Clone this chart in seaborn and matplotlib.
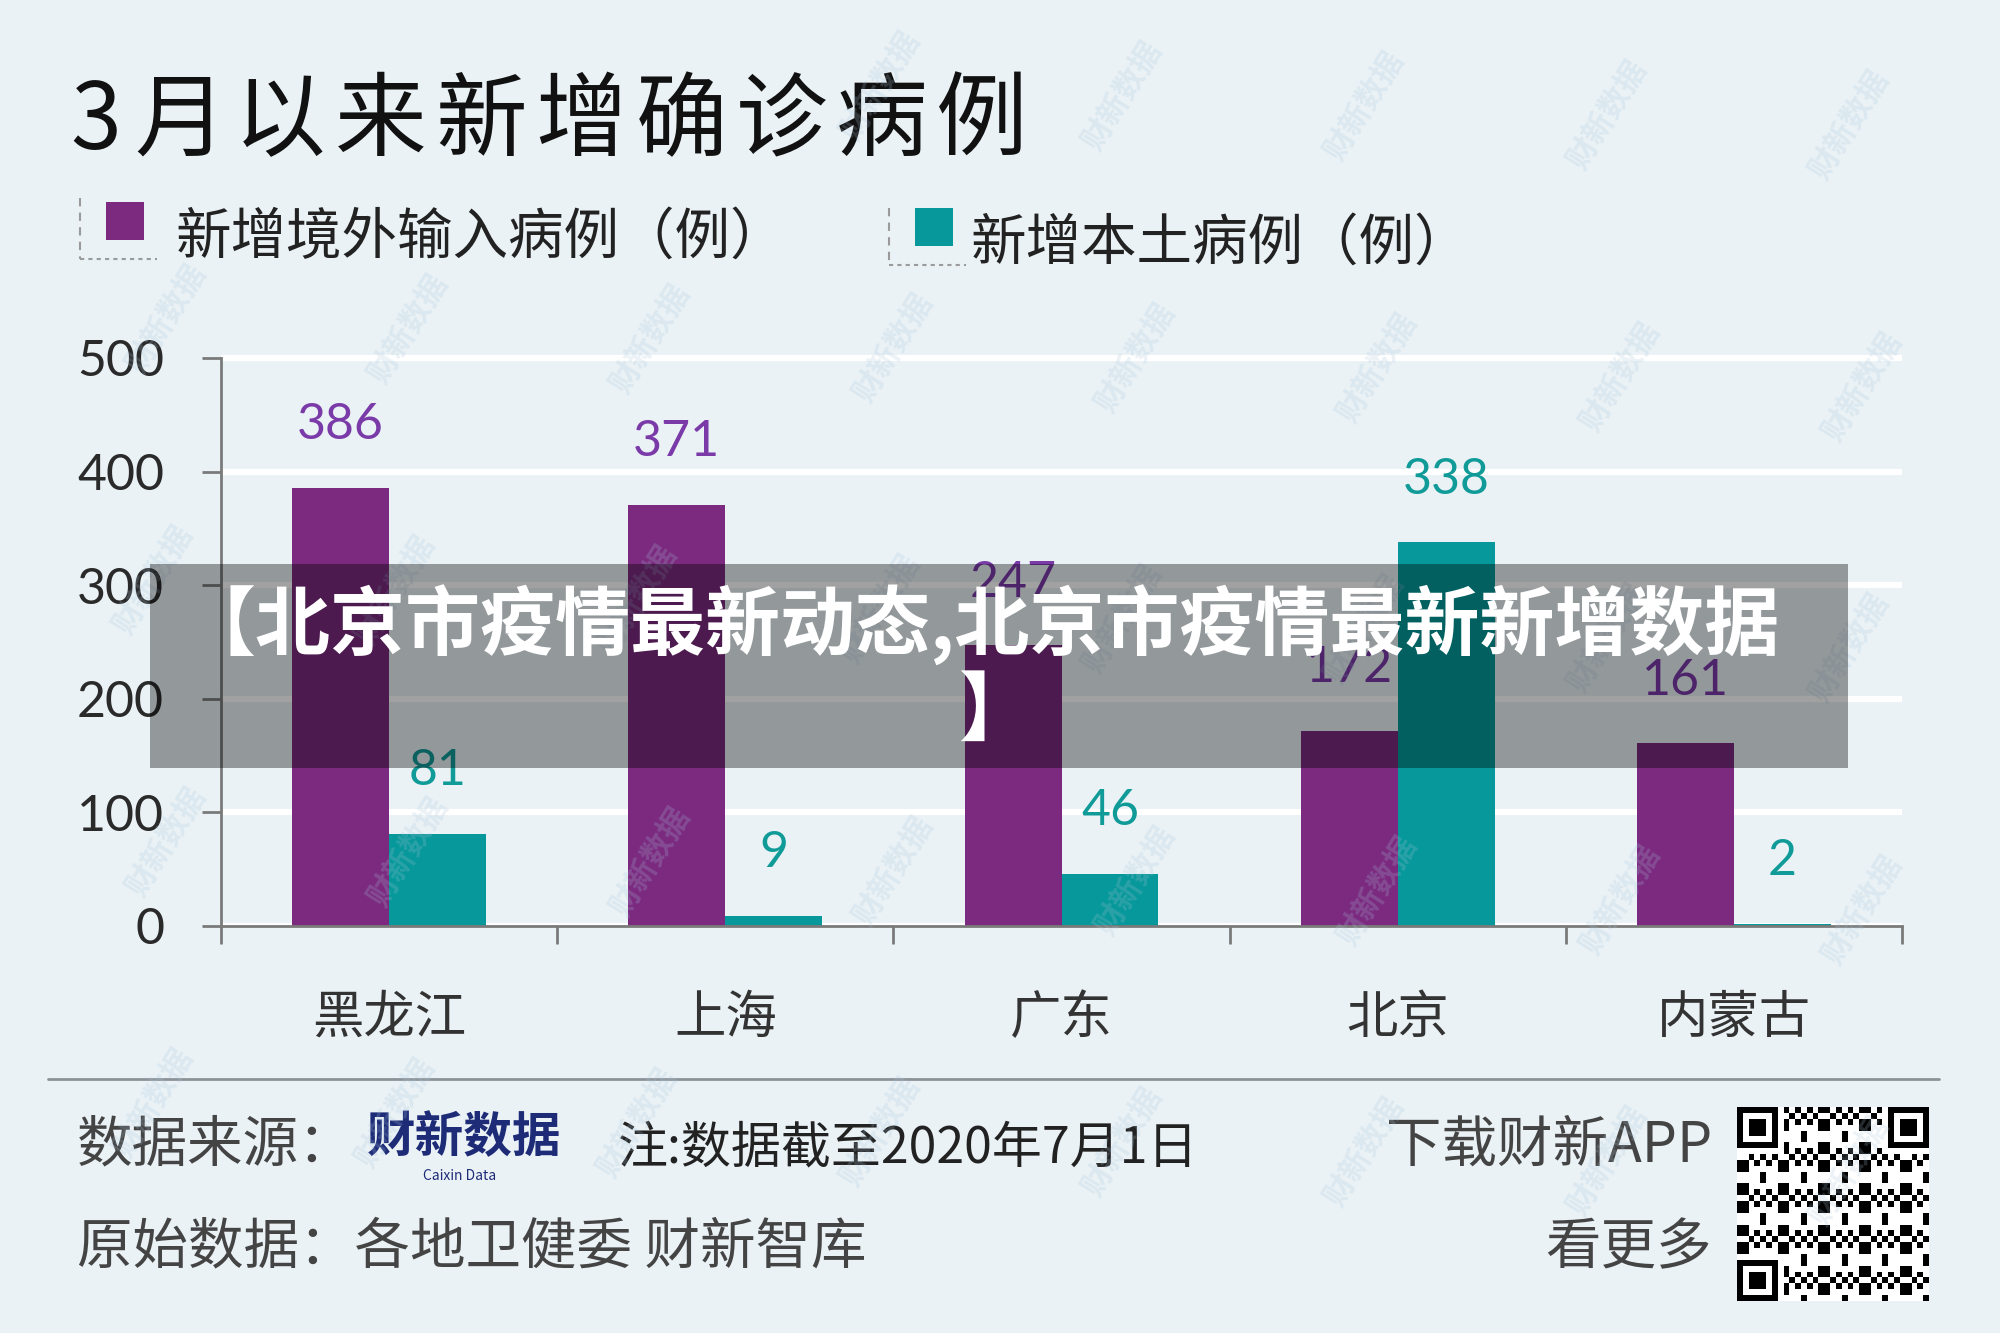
import numpy as np
import pandas as pd
import matplotlib
matplotlib.use('Agg')
import matplotlib.pyplot as plt
import seaborn as sns
from matplotlib.patches import Rectangle
from matplotlib.lines import Line2D

# ---------------- data ----------------
provinces = ['黑龙江', '上海', '广东', '北京', '内蒙古']
imported = [386, 371, 247, 172, 161]
local = [81, 9, 46, 338, 2]
series_names = ['新增境外输入病例（例）', '新增本土病例（例）']
y_ticks = [0, 100, 200, 300, 400, 500]

title = '3月以来新增确诊病例'
banner_line1 = '【北京市疫情最新动态,北京市疫情最新新增数据'
banner_line2 = '】'

PURPLE = '#7b2a80'
TEAL = '#06989a'
PURPLE_TXT = '#7a3aa8'
TEAL_TXT = '#119b98'
BG = '#eaf2f6'
AXIS = '#7a7a7a'
NUMFONT = ['Lato', 'DejaVu Sans']

sns.set_theme(style='white')
plt.rcParams['font.family'] = ['Noto Sans CJK SC', 'DejaVu Sans']

df = pd.DataFrame({
    '省份': provinces * 2,
    '类型': [series_names[0]] * len(provinces) + [series_names[1]] * len(provinces),
    '病例': imported + local,
})

W, H = 2000, 1333
def fx(px):
    return px / W
def fy(py):
    return 1 - py / H

fig = plt.figure(figsize=(20, 13.33), dpi=100)
fig.patch.set_facecolor(BG)

# ---------------- watermarks (interior only) ----------------
for j in range(-1, 6):
    for i in range(-1, 9):
        xd = 120 + 190 * i + (j % 2) * 10
        yd = 40 + 205 * j + 0.04 * xd
        X, Y = xd * 1.2755, yd * 1.2755
        if 70 < X < W - 70 and 80 < Y < H - 80:
            fig.text(fx(X), fy(Y), '财新数据', rotation=58,
                     ha='center', va='center', fontsize=22, fontweight='bold',
                     color='#a9c4d8', alpha=0.22, zorder=20)

# ---------------- main axes ----------------
ymax = 505
ax = fig.add_axes([fx(221), fy(926), fx(1902) - fx(221), (fy(358) - fy(926)) * ymax / 500])
ax.set_facecolor('none')
ax.set_axisbelow(True)
ax.yaxis.grid(True, color='white', lw=4.5)
ax.xaxis.grid(False)

sns.barplot(data=df, x='省份', y='病例', hue='类型', palette=[PURPLE, TEAL],
            width=0.577, saturation=1, ax=ax, legend=False, edgecolor='none',
            linewidth=0)

ax.set_xlim(-0.5, len(provinces) - 0.5)
ax.set_ylim(0, ymax)
ax.set_xlabel('')
ax.set_ylabel('')

for s in ['top', 'right']:
    ax.spines[s].set_visible(False)
for s in ['left', 'bottom']:
    ax.spines[s].set_color(AXIS)
    ax.spines[s].set_linewidth(2)
ax.spines['left'].set_bounds(0, 500)

ax.set_yticks(y_ticks)
ax.set_yticklabels([str(t) for t in y_ticks], fontsize=36, color='#2a2a2a',
                   family=NUMFONT)
ax.tick_params(axis='y', which='major', direction='out', length=14, width=2,
               color=AXIS, pad=27, left=True)

ax.set_xticks(np.arange(-0.5, len(provinces), 1.0))
ax.set_xticklabels([])
ax.set_xticks(np.arange(len(provinces)), minor=True)
ax.set_xticklabels(provinces, minor=True, fontsize=37, color='#333333')
ax.tick_params(axis='x', which='major', direction='out', length=13, width=2,
               color=AXIS, bottom=True)
ax.tick_params(axis='x', which='minor', length=0, pad=47, bottom=True)

for cont, vals, col in zip(ax.containers, [imported, local], [PURPLE_TXT, TEAL_TXT]):
    for patch, v in zip(cont.patches, vals):
        ax.annotate(str(v), (patch.get_x() + patch.get_width() / 2, patch.get_height()),
                    xytext=(0, 45), textcoords='offset points', ha='center', va='center',
                    fontsize=36, color=col, family=NUMFONT, annotation_clip=False)

# ---------------- title (letter-spaced) ----------------
fig.text(fx(70), fy(123), title[0], ha='left', va='center', fontsize=66, color='#111111')
for k, ch in enumerate(title[1:]):
    fig.text(fx(134 + k * 100.3), fy(123), ch, ha='left', va='center', fontsize=66,
             color='#111111')

# ---------------- legend ----------------
def legend_item(x_line, y_top, y_bot, x_end, sq_x, sq_y, color, label, tx):
    fig.add_artist(Line2D([fx(x_line), fx(x_line)], [fy(y_top), fy(y_bot)],
                          transform=fig.transFigure, color='#9a9a9a', lw=1.5, ls=(0, (4, 3))))
    fig.add_artist(Line2D([fx(x_line), fx(x_end)], [fy(y_bot), fy(y_bot)],
                          transform=fig.transFigure, color='#9a9a9a', lw=1.5, ls=(0, (2, 2))))
    fig.add_artist(Rectangle((fx(sq_x), fy(sq_y + 38)), fx(38), 38 / H,
                             transform=fig.transFigure, facecolor=color, edgecolor='none'))
    fig.text(fx(tx), fy(sq_y + 36), label, ha='left', va='center', fontsize=40, color='#222222')

legend_item(80, 198, 259, 157, 106, 202, PURPLE, series_names[0], 176)
legend_item(889, 208, 265, 966, 915, 208, TEAL, series_names[1], 971)

# ---------------- banner overlay ----------------
fig.add_artist(Rectangle((fx(150), fy(768)), fx(1848) - fx(150), (768 - 564) / H,
                         transform=fig.transFigure, facecolor='black', alpha=0.37,
                         edgecolor='none', zorder=30))
fig.text(fx(980), fy(625), banner_line1, ha='center', va='center', fontsize=54,
         fontweight='bold', color='white', zorder=31)
fig.text(fx(996), fy(712), banner_line2, ha='center', va='center', fontsize=54,
         fontweight='bold', color='white', zorder=31)

# ---------------- footer ----------------
fig.add_artist(Line2D([fx(48), fx(1939)], [fy(1079), fy(1079)], transform=fig.transFigure,
                      color='#8c9398', lw=2))
FOOT = '#444444'
fig.text(fx(77), fy(1146), '数据来源：', ha='left', va='center', fontsize=40, color=FOOT)
fig.text(fx(367), fy(1138), '财新数据', ha='left', va='center', fontsize=35,
         fontweight='bold', color='#1e2c78')
fig.text(fx(460), fy(1176), 'Caixin Data', ha='center', va='center', fontsize=10,
         color='#1e2c78')
fig.text(fx(618), fy(1148), '注:数据截至2020年7月1日', ha='left', va='center', fontsize=36,
         color='#222222')
fig.text(fx(1712), fy(1146), '下载财新APP', ha='right', va='center', fontsize=40, color=FOOT)
fig.text(fx(77), fy(1248), '原始数据：各地卫健委 财新智库', ha='left', va='center',
         fontsize=40, color=FOOT)
fig.text(fx(1712), fy(1248), '看更多', ha='right', va='center', fontsize=40, color=FOOT)

# QR-like decoration
n = 33
ii, jj = np.meshgrid(np.arange(n), np.arange(n), indexing='ij')
qr = (((ii * ii * 3 + jj * jj * 5 + ii * jj * 7 + ii + 2 * jj) % 7) < 3).astype(float)
def finder(r, c):
    qr[r:r + 7, c:c + 7] = 1
    qr[r + 1:r + 6, c + 1:c + 6] = 0
    qr[r + 2:r + 5, c + 2:c + 5] = 1
for r, c in [(0, 0), (0, n - 7), (n - 7, 0)]:
    qr[max(r - 1, 0):r + 8, max(c - 1, 0):c + 8] = 0
    finder(r, c)
qax = fig.add_axes([fx(1737), fy(1301), fx(192), 194 / H])
qax.imshow(qr, cmap='Greys', interpolation='nearest', vmin=0, vmax=1, aspect='auto')
qax.axis('off')

fig.savefig('out.png', dpi=100, facecolor=BG)
